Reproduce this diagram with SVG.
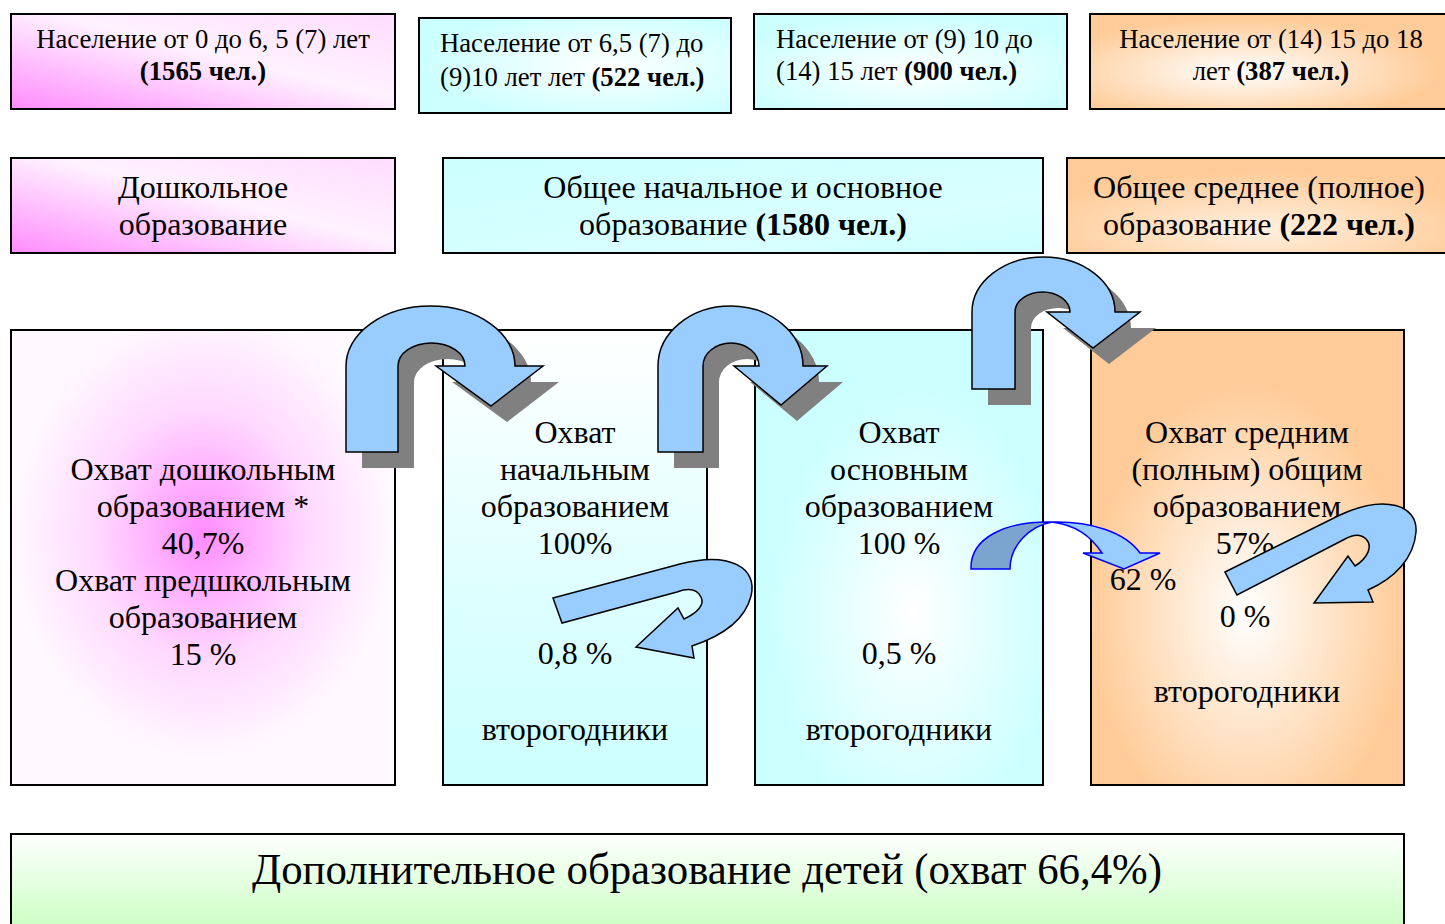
<svg xmlns="http://www.w3.org/2000/svg" xmlns:xlink="http://www.w3.org/1999/xlink" width="1445" height="924" viewBox="0 0 1445 924">
<style>
.box{stroke:#000;stroke-width:2}
.t{font-family:"Liberation Serif","Times New Roman",serif;fill:#000}
.s1{font-size:26.7px}
.s2{font-size:32px}
.s3{font-size:32px}
.s4{font-size:44px}
.c{text-anchor:middle}
.b{font-weight:bold}
.arrow{fill:#99CCFF;stroke:#000;stroke-width:1.5;stroke-linejoin:miter}
.shadow{fill:#808080}
.barrow{stroke:#0000FF;stroke-width:1.5}
</style>
<defs>
<linearGradient id="gMag" x1="0" y1="1" x2="1" y2="0">
<stop offset="0" stop-color="#FF8CFF"/>
<stop offset="0.55" stop-color="#FFF2FF"/>
<stop offset="1" stop-color="#FFDDFF"/>
</linearGradient>
<radialGradient id="gCyanR" cx="0.6" cy="0.5" r="0.6">
<stop offset="0" stop-color="#FFFFFF"/>
<stop offset="1" stop-color="#CCFFFF"/>
</radialGradient>
<radialGradient id="gCyanC" cx="0.5" cy="0.6" r="0.6">
<stop offset="0" stop-color="#FFFFFF"/>
<stop offset="1" stop-color="#CCFFFF"/>
</radialGradient>
<linearGradient id="gCyanF" x1="0" y1="0" x2="1" y2="1">
<stop offset="0" stop-color="#CCFFFF"/>
<stop offset="0.7" stop-color="#D9FFFF"/>
<stop offset="1" stop-color="#CCFFFF"/>
</linearGradient>
<radialGradient id="gOrD" cx="0.42" cy="0.6" r="0.55">
<stop offset="0" stop-color="#FFFFFF"/>
<stop offset="1" stop-color="#FFCC99"/>
</radialGradient>
<radialGradient id="gOrG" cx="0.5" cy="0.75" r="0.6">
<stop offset="0" stop-color="#FFF0E0"/>
<stop offset="1" stop-color="#FFCC99"/>
</radialGradient>
<radialGradient id="gMagH" cx="0.5" cy="0.45" r="0.5">
<stop offset="0" stop-color="#FF8CFF"/>
<stop offset="0.55" stop-color="#FFD9FF"/>
<stop offset="1" stop-color="#FFFAFF"/>
</radialGradient>
<linearGradient id="gCyanI" x1="0" y1="0" x2="0" y2="1">
<stop offset="0" stop-color="#FFFFFF"/>
<stop offset="0.6" stop-color="#DDFFFF"/>
<stop offset="1" stop-color="#CCFFFF"/>
</linearGradient>
<radialGradient id="gCyanJ" cx="0.55" cy="0.62" r="0.5">
<stop offset="0" stop-color="#FFFFFF"/>
<stop offset="1" stop-color="#CCFFFF"/>
</radialGradient>
<radialGradient id="gOrK" cx="0.5" cy="0.62" r="0.5">
<stop offset="0" stop-color="#FFFFFF"/>
<stop offset="1" stop-color="#FFCC99"/>
</radialGradient>
<linearGradient id="gGreen" x1="0" y1="0" x2="0" y2="1">
<stop offset="0" stop-color="#FFFFFF"/>
<stop offset="1" stop-color="#C8FFC0"/>
</linearGradient>
<path id="arr1" d="M346,452 L346,366 A84.5,60 0 0 1 515,366 L543,366 L491,406 L436,366 L465,366 A33.5,23 0 0 0 398,366 L398,452 Z"/>
<path id="arr2" d="M658,452 L658,366 A72.5,60 0 0 1 803,366 L827,366 L781,405 L734,366 L759,366 A28,23 0 0 0 703,366 L703,452 Z"/>
<path id="arr3" d="M972,389 L972,312 A71.5,55 0 0 1 1115,312 L1140,312 L1093,348 L1047,312 L1070,312 A27.5,20 0 0 0 1015,312 L1015,389 Z"/>
</defs>

<g id="node-pop-0-6">
<rect class="box" x="11" y="14" width="384" height="95" fill="url(#gMag)"/>
<text class="t s1 c" x="203" y="48">Население от 0 до 6, 5 (7) лет</text>
<text class="t s1 c b" x="203" y="80">(1565 чел.)</text>
</g>
<g id="node-pop-6-10">
<rect class="box" x="419" y="18" width="312" height="95" fill="url(#gCyanR)"/>
<text class="t s1" x="440" y="52">Население от 6,5 (7) до</text>
<text class="t s1" x="440" y="86">(9)10 лет лет <tspan class="b">(522 чел.)</tspan></text>
</g>
<g id="node-pop-10-15">
<rect class="box" x="754" y="14" width="313" height="95" fill="url(#gCyanC)"/>
<text class="t s1" x="776" y="48">Население от (9) 10 до</text>
<text class="t s1" x="776" y="80">(14) 15 лет <tspan class="b">(900 чел.)</tspan></text>
</g>
<g id="node-pop-15-18">
<rect class="box" x="1090" y="14" width="360" height="95" fill="url(#gOrD)"/>
<text class="t s1 c" x="1271" y="48">Население от (14) 15 до 18</text>
<text class="t s1 c" x="1271" y="80">лет <tspan class="b">(387 чел.)</tspan></text>
</g>

<g id="node-preschool">
<rect class="box" x="11" y="158" width="384" height="95" fill="url(#gMag)"/>
<text class="t s2 c" x="203" y="198">Дошкольное</text>
<text class="t s2 c" x="203" y="235">образование</text>
</g>
<g id="node-general">
<rect class="box" x="443" y="158" width="600" height="95" fill="url(#gCyanF)"/>
<text class="t s2 c" x="743" y="198">Общее начальное и основное</text>
<text class="t s2 c" x="743" y="235">образование <tspan class="b">(1580 чел.)</tspan></text>
</g>
<g id="node-secondary">
<rect class="box" x="1067" y="158" width="383" height="95" fill="url(#gOrG)"/>
<text class="t s2 c" x="1259" y="198">Общее среднее (полное)</text>
<text class="t s2 c" x="1259" y="235">образование <tspan class="b">(222 чел.)</tspan></text>
</g>

<g id="node-cov-preschool">
<rect class="box" x="11" y="330" width="384" height="455" fill="url(#gMagH)"/>
<text class="t s3 c" x="203" y="480">Охват дошкольным</text>
<text class="t s3 c" x="203" y="517">образованием *</text>
<text class="t s3 c" x="203" y="554">40,7%</text>
<text class="t s3 c" x="203" y="591">Охват предшкольным</text>
<text class="t s3 c" x="203" y="628">образованием</text>
<text class="t s3 c" x="203" y="665">15 %</text>
</g>
<g id="node-cov-primary">
<rect class="box" x="443" y="330" width="264" height="455" fill="url(#gCyanI)"/>
<text class="t s3 c" x="575" y="443">Охват</text>
<text class="t s3 c" x="575" y="480">начальным</text>
<text class="t s3 c" x="575" y="517">образованием</text>
<text class="t s3 c" x="575" y="554">100%</text>
<text class="t s3 c" x="575" y="664">0,8 %</text>
<text class="t s3 c" x="575" y="740">второгодники</text>
</g>
<g id="node-cov-basic">
<rect class="box" x="755" y="330" width="288" height="455" fill="url(#gCyanJ)"/>
<text class="t s3 c" x="899" y="443">Охват</text>
<text class="t s3 c" x="899" y="480">основным</text>
<text class="t s3 c" x="899" y="517">образованием</text>
<text class="t s3 c" x="899" y="554">100 %</text>
<text class="t s3 c" x="899" y="664">0,5 %</text>
<text class="t s3 c" x="899" y="740">второгодники</text>
</g>
<g id="node-cov-secondary">
<rect class="box" x="1091" y="330" width="313" height="455" fill="url(#gOrK)"/>
<text class="t s3 c" x="1247" y="443">Охват средним</text>
<text class="t s3 c" x="1247" y="480">(полным) общим</text>
<text class="t s3 c" x="1247" y="517">образованием</text>
<text class="t s3 c" x="1245" y="554">57%</text>
<text class="t s3 c" x="1143" y="590">62 %</text>
<text class="t s3 c" x="1245" y="627">0 %</text>
<text class="t s3 c" x="1247" y="702">второгодники</text>
</g>

<g id="node-additional">
<rect class="box" x="11" y="834" width="1393" height="100" fill="url(#gGreen)"/>
<text class="t s4 c" x="707" y="884" textLength="910" lengthAdjust="spacingAndGlyphs">Дополнительное образование детей (охват 66,4%)</text>
</g>

<g id="connectors">
<use xlink:href="#arr1" class="shadow" transform="translate(16,16)"/>
<use xlink:href="#arr1" class="arrow"/>
<use xlink:href="#arr2" class="shadow" transform="translate(16,16)"/>
<use xlink:href="#arr2" class="arrow"/>
<use xlink:href="#arr3" class="shadow" transform="translate(16,16)"/>
<use xlink:href="#arr3" class="arrow"/>
<path class="arrow" d="M553,598 L680,564 C730,551 758,568 751,596 C745,620 722,636 692,646 L694,658 L636,647 L678,608 L684,619 C697,613 705,605 701,597 C697,589 688,588 677,592 L562,623 Z"/>
<path class="barrow" fill="#7BA5CF" d="M971,569 C970,538 1005,521 1052,522 C1030,526 1010,545 1010,569 Z"/>
<path class="barrow" fill="#99CCFF" d="M1052,522 C1090,521 1125,532 1140,553 L1160,553 L1124,569 L1083,553 L1102,553 C1090,535 1075,525 1052,522 Z"/>
<path class="arrow" d="M1225,572 L1340,515 C1385,494 1418,505 1416,532 C1414,558 1395,578 1368,590 L1373,602 L1314,603 L1348,556 L1355,566 C1368,558 1373,546 1366,539 C1360,533 1352,535 1345,539 L1237,595 Z"/>
</g>
</svg>
